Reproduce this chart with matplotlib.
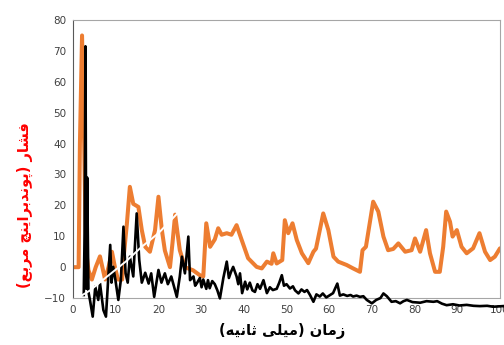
import numpy as np
import matplotlib
matplotlib.use("Agg")
from matplotlib import pyplot as plt

# orange series (time ms, pressure)
orange_t = [0, 1.3, 1.6, 2.1, 2.6, 3.0, 3.6, 4.4, 5.3, 6.3, 7.5, 8.3, 9.1, 9.8,
            10.5, 11.5, 11.8, 12.6, 13.3, 14.1, 15.3, 16.1, 16.9, 18.0, 19.2,
            20.0, 20.8, 21.5, 22.7, 23.3, 23.9, 25.0, 26.2, 28.1, 29.7, 30.5,
            31.2, 32.1, 33.2, 34.0, 34.8, 36.0, 37.1, 38.3, 39.5, 41.0, 43.0,
            44.2, 45.4, 46.5, 46.9, 47.7, 49.0, 49.6, 50.4, 51.4, 52.4, 53.6,
            55.1, 56.3, 56.9, 58.6, 59.8, 61.0, 62.1, 64.1, 65.6, 67.2, 67.8,
            68.6, 70.3, 71.5, 72.7, 73.8, 75.0, 76.2, 77.8, 79.3, 80.1, 81.3,
            82.7, 83.6, 84.8, 85.9, 86.7, 87.4, 88.3, 88.9, 89.9, 91.0, 92.2,
            93.7, 95.2, 96.5, 97.7, 98.8, 100.0]
orange_p = [0, 0, 40, 75, 40, 6, -1, -4, 0, 3.5, -4, 0, 5, 0,
            -4, -4, 2.5, 14, 26, 20.5, 19.5, 12, 6.6, 5, 12,
            22.8, 12, 5.4, 0, 8, 17, 5.5, 0, -1, -2.6, -3,
            14.2, 6.6, 9, 12.6, 10.5, 11, 10.5, 13.6, 8.8, 2.9, 0.1,
            -0.4, 1.8, 1.1, 4.5, 1.2, 2.3, 15.2, 11, 14.2, 8.8, 4.5,
            1.3, 5, 6, 17.4, 12, 3.4, 1.8, 0.7, -0.4, -1.5, 5.5,
            6.6, 21.2, 18, 9.9, 5.5, 5.9, 7.7, 5, 5.5, 9.3, 5,
            12, 4.5, -1.5, -1.5, 6.6, 18, 14.7, 9.9, 12, 6.6, 4.5,
            6.1, 11, 5, 2.3, 3.4, 6.1]

# black series
black_t = [2.5, 2.7, 2.9, 3.1, 3.3, 3.6, 4.0, 4.6, 5.2, 5.9, 6.3, 7.1, 7.7,
           8.7, 9.0, 9.4, 9.9, 10.6, 11.2, 11.8, 12.3, 12.8, 13.3, 14.1,
           14.9, 15.5, 16.1, 16.9, 17.7, 18.3, 19.0, 20.0, 20.7, 21.5, 22.2,
           23.0, 23.6, 24.3, 25.0, 25.5, 26.2, 27.0, 27.4, 28.2, 28.6, 29.0,
           29.7, 30.1, 30.5, 31.2, 31.6, 32.0, 32.6, 33.2, 33.8, 34.4, 35.2,
           36.0, 36.5, 37.0, 37.5, 38.3, 38.7, 39.1, 39.6, 40.3, 40.8, 41.4,
           42.0, 42.6, 43.2, 43.8, 44.6, 45.4, 46.1, 46.8, 47.7, 48.3, 48.9,
           49.4, 50.0, 50.8, 51.5, 52.0, 52.8, 53.5, 54.2, 54.8, 55.5, 56.3,
           57.0, 57.8, 58.5, 59.3, 60.2, 60.9, 61.9, 62.5, 63.3, 64.2, 65.0,
           65.6, 66.4, 67.2, 68.0, 68.8, 70.0, 71.0, 72.0, 72.7, 73.5, 74.6,
           75.6, 76.6, 77.4, 78.2, 79.5, 81.3, 82.8, 84.4, 85.3, 86.4, 87.5,
           89.0, 90.5, 92.2, 93.8, 95.3, 97.0, 98.4, 100.7]
black_p = [-9, 11, 71.5, -7, 29, -8, -11, -16, -6.3, -10.6, -5.2, -13.9, -16,
           7.2, -5, 0.1, -4, -10.6, -4, 13.1, -2, -5, 3.4, -3,
           17.4, 2.3, -5, -1.8, -5.3, -2, -9.6, -0.9, -5, -2, -5.5,
           -3, -6, -9.6, -3, 3.4, -2, 9.9, -4.2, -3, -6, -5.2,
           -3.5, -6.5, -4, -7, -4.2, -6.8, -4.5, -5.5, -7.5, -10.1, -3.5,
           1.8, -3.5, -1.5, 0.1, -3, -5.5, -2, -8.4, -4.7, -7.2, -5.0,
           -7.5, -8.0, -5.5, -7.0, -4.2, -8.4, -6.5, -7.4, -7.0, -5.0, -2.6,
           -6.0, -5.5, -6.9, -6.2, -7.5, -8.5, -7.2, -8.0, -7.4, -9.0, -11.2,
           -8.8, -9.5, -8.5, -9.8, -9.0, -8.4, -5.3, -9.2, -8.8, -9.3, -9.0,
           -9.5, -9.2, -9.6, -9.4, -10.6, -11.7, -10.6, -10.0, -8.5, -9.4, -11.2,
           -11.0, -11.7, -11.0, -10.6, -11.3, -11.5, -11.0, -11.2, -11.0, -11.8, -12.3,
           -12.0, -12.4, -12.2, -12.5, -12.6, -12.5, -12.8, -12.6]

# white trend line drawn over the curves
trend_t = [1.6, 4.0, 8.0, 12.5, 16.0, 20.0, 24.5]
trend_p = [-9.5, -7.5, -3.0, 2.0, 6.5, 11.0, 17.5]

x_ticks = np.arange(0, 101, 10)
y_ticks = np.arange(-10, 81, 10)

ar_forms = {
    # isolated, final, initial, medial
    "\u0627": ("\uFE8D", "\uFE8E", None, None),
    "\u0628": ("\uFE8F", "\uFE90", "\uFE91", "\uFE92"),
    "\u067E": ("\uFB56", "\uFB57", "\uFB58", "\uFB59"),
    "\u062B": ("\uFE99", "\uFE9A", "\uFE9B", "\uFE9C"),
    "\u0686": ("\uFB7A", "\uFB7B", "\uFB7C", "\uFB7D"),
    "\u062F": ("\uFEA9", "\uFEAA", None, None),
    "\u0631": ("\uFEAD", "\uFEAE", None, None),
    "\u0632": ("\uFEAF", "\uFEB0", None, None),
    "\u0634": ("\uFEB5", "\uFEB6", "\uFEB7", "\uFEB8"),
    "\u0639": ("\uFEC9", "\uFECA", "\uFECB", "\uFECC"),
    "\u0641": ("\uFED1", "\uFED2", "\uFED3", "\uFED4"),
    "\u0644": ("\uFEDD", "\uFEDE", "\uFEDF", "\uFEE0"),
    "\u0645": ("\uFEE1", "\uFEE2", "\uFEE3", "\uFEE4"),
    "\u0646": ("\uFEE5", "\uFEE6", "\uFEE7", "\uFEE8"),
    "\u0647": ("\uFEE9", "\uFEEA", "\uFEEB", "\uFEEC"),
    "\u0648": ("\uFEED", "\uFEEE", None, None),
    "\u06CC": ("\uFBFC", "\uFBFD", "\uFBFE", "\uFBFF"),
}


def shape_rtl(text):
    # join arabic letters and put them in visual order
    out = []
    for i, ch in enumerate(text):
        if ch not in ar_forms:
            out.append(ch)
            continue
        prev = text[i - 1] if i > 0 else ""
        nxt = text[i + 1] if i + 1 < len(text) else ""
        join_prev = prev in ar_forms and ar_forms[prev][2] is not None
        join_next = ar_forms[ch][2] is not None and nxt in ar_forms
        iso, fin, ini, med = ar_forms[ch]
        if join_prev and join_next:
            out.append(med)
        elif join_prev:
            out.append(fin)
        elif join_next:
            out.append(ini)
        else:
            out.append(iso)
    swap = {"(": ")", ")": "("}
    return "".join(swap.get(c, c) for c in reversed(out))


y_label = shape_rtl("فشار (پوندبراینچ مربع)")
x_label = shape_rtl("زمان (میلی ثانیه)")

fig = plt.figure(figsize=(5.04, 3.45), dpi=100)
ax = fig.add_axes([0.145, 0.136, 0.847, 0.806])

ax.plot(orange_t, orange_p, color="#ED7D31", linewidth=2.9,
        solid_joinstyle="round", solid_capstyle="round", zorder=2)
ax.plot(black_t, black_p, color="black", linewidth=1.9,
        solid_joinstyle="round", zorder=3, clip_on=False)
ax.plot(trend_t, trend_p, color="white", linewidth=1.4, zorder=4)

ax.set_xlim(0, 100)
ax.set_ylim(-10, 80)
ax.set_xticks(x_ticks)
ax.set_yticks(y_ticks)
ax.tick_params(length=0, labelsize=7.5, colors="#404040", pad=5)

for side in ["top", "right", "bottom"]:
    ax.spines[side].set_color("#a6a6a6")
ax.spines["left"].set_color("#595959")

ax.set_ylabel(y_label, color="#ff0000", fontsize=10.5, fontweight="bold")
ax.yaxis.set_label_coords(-0.095, 0.335)
ax.set_xlabel(x_label, color="black", fontsize=10.5, fontweight="bold")
ax.xaxis.set_label_coords(0.49, -0.09)

plt.savefig("out.png", dpi=100)
plt.close()
